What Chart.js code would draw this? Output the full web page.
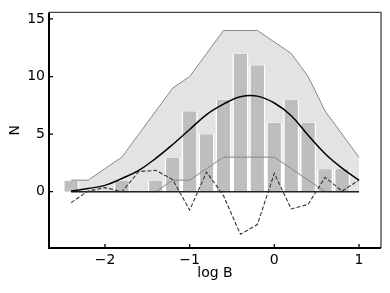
<!DOCTYPE html>
<html>
<head>
<meta charset="utf-8">
<script src="https://cdn.jsdelivr.net/npm/chart.js@4.4.1/dist/chart.umd.min.js"></script>
<style>
    html, body { margin: 0; padding: 0; background: #fff; }
</style>
</head>
<body>
<canvas id="histChart" width="390" height="293"></canvas>
<script>
// bin centres (log B) and what is drawn on them
const logB = [-2.4, -2.2, -2.0, -1.8, -1.6, -1.4, -1.2, -1.0, -0.8, -0.6, -0.4, -0.2, 0.0, 0.2, 0.4, 0.6, 0.8, 1.0];
const counts = [1, 0, 0, 1, 0, 1, 3, 7, 5, 8, 12, 11, 6, 8, 6, 2, 2, 0];
const upperBand = [1, 1, 2, 3, 5, 7, 9, 10, 12, 14, 14, 14, 13, 12, 10, 7, 5, 3];
const lowerBand = [0, 0, 0, 0, 0, 0, 1, 1, 2, 3, 3, 3, 3, 2, 1, 0, 0, 0];
const model = [0.05, 0.28, 0.55, 1.15, 1.85, 2.9, 4.1, 5.4, 6.7, 7.6, 8.25, 8.3, 7.7, 6.6, 4.9, 3.3, 2.05, 1.0];
const residual = [-0.95, 0.05, 0.35, 0.0, 1.75, 1.85, 1.05, -1.6, 1.7, -0.35, -3.7, -2.85, 1.6, -1.5, -1.1, 1.25, 0.05, 1.0];

const xTicks = [-2, -1, 0, 1];
const yTicks = [0, 5, 10, 15];

const pts = (ys) => logB.map((x, i) => ({ x: x, y: ys[i] }));
const tickText = (v) => (v < 0 ? "\u2212" + Math.abs(v) : String(v));

// matplotlib style box with inward ticks
const frame = {
    id: "frame",
    afterDraw(chart) {
        const { ctx, chartArea: a, scales } = chart;
        ctx.save();
        ctx.strokeStyle = "#444";
        ctx.lineWidth = 1.3;
        ctx.beginPath();
        ctx.moveTo(a.left, a.top); ctx.lineTo(a.right, a.top); ctx.lineTo(a.right, a.bottom);
        ctx.stroke();
        ctx.strokeStyle = "#000";
        ctx.lineWidth = 2;
        ctx.beginPath();
        ctx.moveTo(a.left, a.top); ctx.lineTo(a.left, a.bottom); ctx.lineTo(a.right, a.bottom);
        ctx.stroke();
        ctx.lineWidth = 1.3;
        ctx.beginPath();
        xTicks.forEach((v) => {
            const px = scales.x.getPixelForValue(v);
            ctx.moveTo(px, a.bottom); ctx.lineTo(px, a.bottom - 4);
        });
        yTicks.forEach((v) => {
            const py = scales.y.getPixelForValue(v);
            ctx.moveTo(a.left, py); ctx.lineTo(a.left + 4, py);
        });
        ctx.stroke();
        ctx.restore();
    },
};

const font = { family: "DejaVu Sans", size: 14 };

new Chart(document.getElementById("histChart"), {
    type: "bar",
    data: {
        datasets: [
            {
                type: "line",
                data: pts(upperBand),
                borderColor: "#888",
                borderWidth: 1,
                backgroundColor: "#e3e3e3",
                fill: "+1",
                pointRadius: 0,
                order: 3,
            },
            {
                type: "line",
                data: pts(lowerBand),
                borderColor: "#888",
                borderWidth: 1,
                fill: false,
                pointRadius: 0,
                order: 3,
            },
            {
                type: "bar",
                data: pts(counts),
                backgroundColor: "#bebebe",
                borderColor: "#fff",
                borderWidth: { left: 1.5, right: 1.5, top: 0.5, bottom: 0 },
                borderSkipped: false,
                barPercentage: 0.95,
                categoryPercentage: 1.0,
                order: 4,
            },
            {
                type: "line",
                data: [{ x: logB[0], y: 0 }, { x: logB[logB.length - 1], y: 0 }],
                borderColor: "#222",
                borderWidth: 1.6,
                pointRadius: 0,
                fill: false,
                order: 2,
            },
            {
                type: "line",
                data: pts(residual),
                borderColor: "#333",
                borderWidth: 1.1,
                borderDash: [4, 2],
                pointRadius: 0,
                fill: false,
                order: 1,
            },
            {
                type: "line",
                data: pts(model),
                borderColor: "#000",
                borderWidth: 1.5,
                tension: 0.4,
                pointRadius: 0,
                fill: false,
                order: 0,
            },
        ],
    },
    options: {
        responsive: false,
        animation: false,
        devicePixelRatio: 1,
        layout: { padding: { top: 8, right: 9, left: 0, bottom: 0 } },
        scales: {
            x: {
                type: "linear",
                offset: false,
                min: -2.661,
                max: 1.26,
                grid: { display: false, drawTicks: false },
                border: { display: false },
                afterBuildTicks: (s) => { s.ticks = xTicks.map((v) => ({ value: v })); },
                afterFit: (s) => { s.height = 45; },
                ticks: { color: "#000", font: font, padding: 4, maxRotation: 0, callback: tickText },
                title: { display: true, text: "log B", color: "#000", font: font, padding: { top: 0, bottom: 11 } },
            },
            y: {
                min: -4.89,
                max: 15.57,
                grid: { display: false, drawTicks: false },
                border: { display: false },
                afterBuildTicks: (s) => { s.ticks = yTicks.map((v) => ({ value: v })); },
                afterFit: (s) => { s.width = 49; },
                ticks: { color: "#000", font: font, padding: 4, callback: tickText },
                title: { display: true, text: "N", color: "#000", font: font, padding: { top: 7, bottom: 0 } },
            },
        },
        plugins: {
            legend: { display: false },
            tooltip: { enabled: false },
            filler: { drawTime: "beforeDatasetsDraw" },
        },
    },
    plugins: [frame],
});
</script>
</body>
</html>
